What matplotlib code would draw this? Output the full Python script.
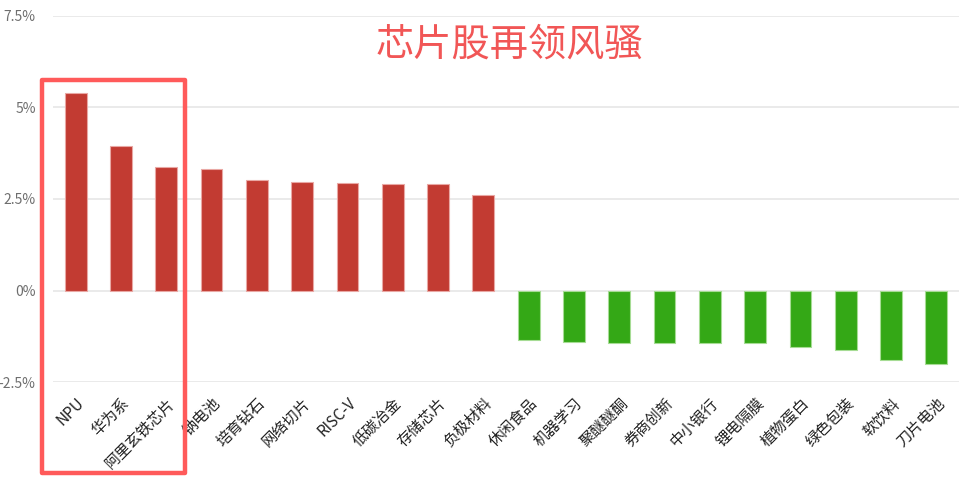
import matplotlib
matplotlib.use("Agg")
import matplotlib.pyplot as plt
import matplotlib.transforms as mtransforms
from matplotlib.patches import Rectangle

plt.rcParams['font.family'] = ['Noto Sans CJK SC', 'DejaVu Sans']

categories = ["NPU", "华为系", "阿里玄铁芯片", "钠电池", "培育钻石", "网络切片", "RISC-V",
              "低碳冶金", "存储芯片", "负极材料", "休闲食品", "机器学习", "聚醚醚酮", "券商创新",
              "中小银行", "锂电隔膜", "植物蛋白", "绿色包装", "软饮料", "刀片电池"]
values = [5.38, 3.94, 3.37, 3.33, 3.01, 2.97, 2.94, 2.91, 2.91, 2.61,
          -1.35, -1.41, -1.44, -1.44, -1.44, -1.44, -1.55, -1.62, -1.88, -2.01]
yticks = [-2.5, 0, 2.5, 5, 7.5]
ytick_labels = ["-2.5%", "0%", "2.5%", "5%", "7.5%"]
title = "芯片股再领风骚"

W, H = 969, 480
fig = plt.figure(figsize=(W / 100, H / 100), dpi=100)
ax = fig.add_axes([53 / W, 1 - 382.3 / H, (959 - 53) / W, (382.3 - 15.7) / H])

x = list(range(len(categories)))
colors = ['#c23b32' if v >= 0 else '#34a816' for v in values]
edges = ['#e9a8a4' if v >= 0 else '#a6dc94' for v in values]
ax.bar(x, values, width=0.48, color=colors, edgecolor=edges, linewidth=0.8, zorder=3)

ax.set_xlim(-0.5, len(categories) - 0.5)
ax.set_ylim(-2.5, 7.5)
ax.set_yticks(yticks)
ax.set_yticklabels(ytick_labels)
ax.yaxis.grid(True, color='#e6e6e6', linewidth=1.2, zorder=0)
ax.set_axisbelow(True)
for s in ax.spines.values():
    s.set_visible(False)
ax.tick_params(axis='y', length=0, pad=12.5, labelsize=10, labelcolor='#6e6e6e')
ax.tick_params(axis='x', length=0, pad=9, labelsize=11, labelcolor='#222222')

ax.set_xticks(x)
ax.set_xticklabels(categories, rotation=45, ha='right', va='top', rotation_mode='anchor')
offset = mtransforms.ScaledTranslation(0 / 100, 0, fig.dpi_scale_trans)
for lbl in ax.get_xticklabels():
    lbl.set_transform(lbl.get_transform() + offset)

fig.text(509 / W, 1 - 45 / H, title, color='#f15656', fontsize=27.5,
         ha='center', va='center')

rect = Rectangle((42 / W, 1 - 473 / H), (185 - 42) / W, (473 - 80) / H,
                 transform=fig.transFigure, fill=False, edgecolor='#ff5a5a',
                 linewidth=3.2, joinstyle='round', zorder=10)
fig.patches.append(rect)

fig.savefig("out.png", dpi=100)
